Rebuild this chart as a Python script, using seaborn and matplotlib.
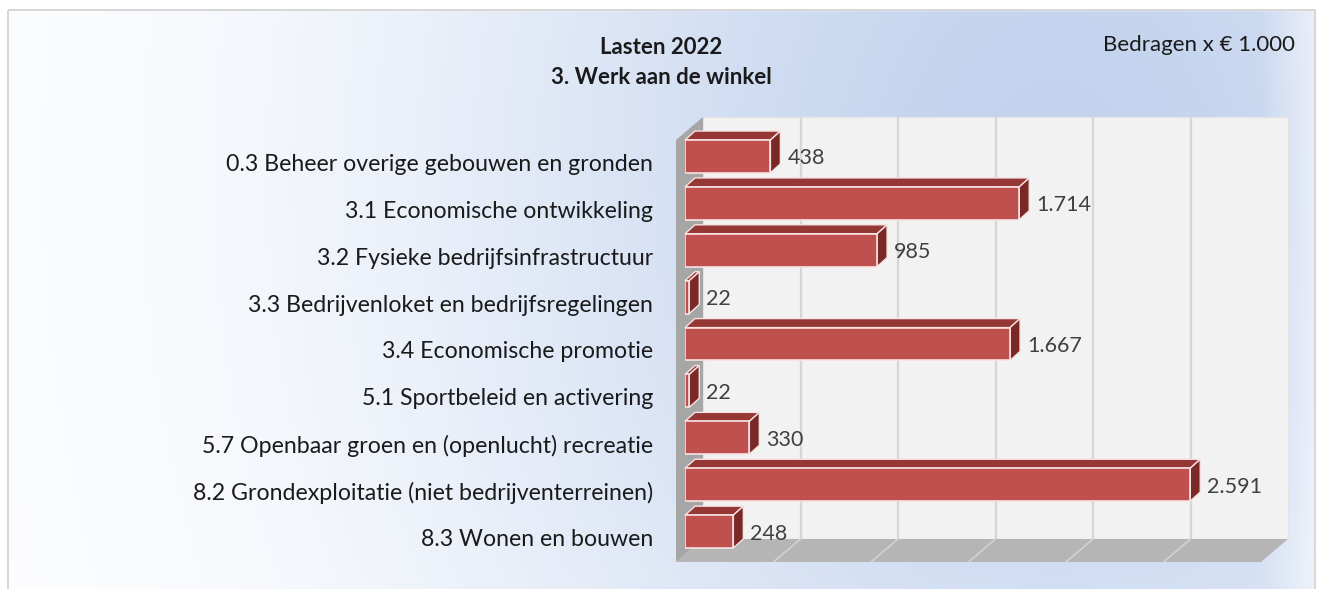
import numpy as np
import pandas as pd
import matplotlib.pyplot as plt
import seaborn as sns
from matplotlib.patches import Polygon, Rectangle
from matplotlib.transforms import ScaledTranslation

categories = [
    "0.3 Beheer overige gebouwen en gronden",
    "3.1 Economische ontwikkeling",
    "3.2 Fysieke bedrijfsinfrastructuur",
    "3.3 Bedrijvenloket en bedrijfsregelingen",
    "3.4 Economische promotie",
    "5.1 Sportbeleid en activering",
    "5.7 Openbaar groen en (openlucht) recreatie",
    "8.2 Grondexploitatie (niet bedrijventerreinen)",
    "8.3 Wonen en bouwen",
]
values = [438, 1714, 985, 22, 1667, 22, 330, 2591, 248]
grid_ticks = [0, 500, 1000, 1500, 2000, 2500, 3000]

df = pd.DataFrame({"onderdeel": categories, "lasten": values})

W, H, DPI = 1320, 589, 100
sns.set_style("white")
plt.rcParams["font.family"] = ["Lato", "DejaVu Sans"]

fig = plt.figure(figsize=(W / DPI, H / DPI), dpi=DPI)


def fx(px):
    return px / W


def fy(py):
    return 1 - py / H


# background with gradient and frame
bg = fig.add_axes([0, 0, 1, 1], zorder=-10)
X, Y = np.meshgrid(np.linspace(0, 1, W), np.linspace(0, 1, H))
t = np.exp(-((X - 0.8) / 0.47) ** 2 - ((Y - 0.3) / 1.3) ** 2)
t = t * (1 - 0.55 * np.clip((X - 0.955) / 0.04, 0, 1))
white = np.array([1.0, 1.0, 1.0])
blue = np.array([0xc3, 0xd3, 0xee]) / 255
img = white * (1 - t[..., None]) + blue * t[..., None]
bg.imshow(img, extent=(0, W, H, 0), aspect="auto")
bg.add_patch(Rectangle((0, 0), 8, H, color="white"))
bg.add_patch(Rectangle((0, 0), W, 10, color="white"))
bg.add_patch(Rectangle((1315, 0), 10, H, color="white"))
bg.add_patch(Rectangle((8, 10), 1307, H, fill=False, edgecolor="#d0d0d0", lw=1.2))
bg.set_xlim(0, W)
bg.set_ylim(H, 0)
bg.axis("off")

# main chart axes (plane of the bar front faces)
left_px, right_px, top_px, bottom_px = 685, 1270, 133, 555
ax = fig.add_axes([fx(left_px), fy(bottom_px), (right_px - left_px) / W, (bottom_px - top_px) / H])
ax.patch.set_alpha(0)

sns.barplot(data=df, x="lasten", y="onderdeel", orient="h", color="#c0504d",
            saturation=1, width=0.7, edgecolor="#f6e3e2", linewidth=1.2, ax=ax)
bars = list(ax.patches)

xmin, xmax = grid_ticks[0], grid_ticks[-1]
ax.set_xlim(xmin, xmax)
ax.set_ylim(len(categories) - 0.5, -0.5)
ux = (xmax - xmin) / (right_px - left_px)
uy = len(categories) / (bottom_px - top_px)
ytop, ybot = -0.5, len(categories) - 0.5

FRONT = (-9, 7)
BACK = (18, -16)
DEPTH = (10, -9)


def off(x, y, d):
    return (x + d[0] * ux, y + d[1] * uy)


# back wall
ax.add_patch(Polygon([off(xmin, ytop, BACK), off(xmax, ytop, BACK),
                      off(xmax, ybot, BACK), off(xmin, ybot, BACK)],
                     closed=True, facecolor="#f2f2f2", edgecolor="#e4e4e4",
                     lw=1, clip_on=False, zorder=0))
for g in grid_ticks[1:-1]:
    p0, p1 = off(g, ytop, BACK), off(g, ybot, BACK)
    ax.plot([p0[0], p1[0]], [p0[1], p1[1]], color="#d6d6d6", lw=1.6,
            clip_on=False, zorder=0.5)

# floor
ax.add_patch(Polygon([off(xmin, ybot, FRONT), off(xmax, ybot, FRONT),
                      off(xmax, ybot, BACK), off(xmin, ybot, BACK)],
                     closed=True, facecolor="#b5b5b5", edgecolor="none",
                     clip_on=False, zorder=1))
for g in grid_ticks[1:-1]:
    p0, p1 = off(g, ybot, FRONT), off(g, ybot, BACK)
    ax.plot([p0[0], p1[0]], [p0[1], p1[1]], color="#d2d2d2", lw=1.2,
            clip_on=False, zorder=1.5)

# left side wall
ax.add_patch(Polygon([off(xmin, ybot, FRONT), off(xmin, ytop, FRONT),
                      off(xmin, ytop, BACK), off(xmin, ybot, BACK)],
                     closed=True, facecolor="#a6a6a6", edgecolor="none",
                     clip_on=False, zorder=2))

# 3D faces of the bars and value labels
for bar, val in zip(bars, values):
    x0 = bar.get_x()
    w = bar.get_width()
    yt = bar.get_y()
    yb = yt + bar.get_height()
    bar.set_zorder(5)
    top = [(x0, yt), (x0 + w, yt), off(x0 + w, yt, DEPTH), off(x0, yt, DEPTH)]
    side = [(x0 + w, yt), off(x0 + w, yt, DEPTH), off(x0 + w, yb, DEPTH), (x0 + w, yb)]
    ax.add_patch(Polygon(top, closed=True, facecolor="#953735", edgecolor="#f6e3e2",
                         lw=1.0, clip_on=False, zorder=4))
    ax.add_patch(Polygon(side, closed=True, facecolor="#7b2927", edgecolor="#f6e3e2",
                         lw=1.0, clip_on=False, zorder=4))
    label = f"{val:,}".replace(",", ".")
    ax.text(x0 + w + 17 * ux, (yt + yb) / 2 + 2 * uy, label, ha="left", va="center",
            fontsize=15.5, color="#404040", zorder=6)

ax.set_xlabel("")
ax.set_ylabel("")
ax.set_xticks([])
ax.tick_params(axis="y", length=0, pad=23, labelsize=16.7, labelcolor="#1a1a1a")
shift = ScaledTranslation(0, -6 / DPI, fig.dpi_scale_trans)
for lbl in ax.get_yticklabels():
    lbl.set_transform(lbl.get_transform() + shift)
for s in ax.spines.values():
    s.set_visible(False)

fig.text(fx(661), fy(48), "Lasten 2022", ha="center", va="center",
         fontsize=16, fontweight="bold", color="#1a1a1a")
fig.text(fx(661), fy(77), "3. Werk aan de winkel", ha="center", va="center",
         fontsize=16, fontweight="bold", color="#1a1a1a")
fig.text(fx(1295), fy(45), "Bedragen x € 1.000", ha="right", va="center",
         fontsize=16, color="#1a1a1a")

fig.savefig("out.png", dpi=DPI)
